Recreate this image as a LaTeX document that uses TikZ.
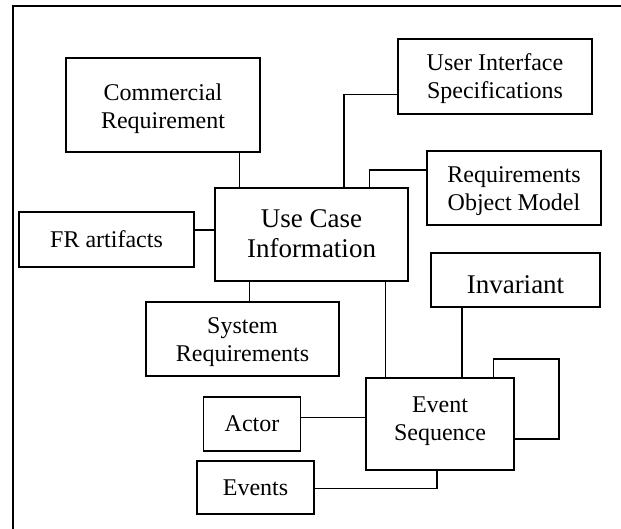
\documentclass[tikz,border=0pt]{standalone}
\usepackage{fontspec}
\setmainfont{Liberation Serif}
\begin{document}
\begin{tikzpicture}[x=1pt,y=-1pt,
  box/.style={draw, line width=1.6pt, rectangle, inner sep=0pt},
  txt/.style={align=center, font=\fontsize{24}{28}\selectfont},
  bigtxt/.style={align=center, font=\fontsize{27}{30}\selectfont},
  conn/.style={line width=1.5pt}]
\useasboundingbox (0,0) rectangle (621,529);
% frame
\draw[line width=1.5pt] (13,529) -- (13,6) -- (621,6);
% boxes
\node[box, minimum width=194pt, minimum height=94pt, label={[txt,yshift=-4pt]center:{Commercial\\Requirement}}] (com) at (163,105) {};
\node[box, minimum width=194pt, minimum height=75pt, label={[txt,yshift=-2pt]center:{User Interface\\Specifications}}] (uis) at (495,76.5) {};
\node[box, minimum width=174pt, minimum height=74pt, label={[txt,yshift=-3pt]center:{Requirements\\Object Model}}] (rom) at (514,188) {};
\node[box, minimum width=175pt, minimum height=55pt, label={[txt]center:{FR artifacts}}] (fr) at (106.5,239.5) {};
\node[box, minimum width=193pt, minimum height=93pt, label={[bigtxt,yshift=1pt]center:{Use Case\\Information}}] (uci) at (311.5,234.5) {};
\node[box, minimum width=169pt, minimum height=54pt, label={[bigtxt,yshift=-5pt]center:{Invariant}}] (inv) at (515.5,280) {};
\node[box, minimum width=193pt, minimum height=74pt, label={[txt,yshift=-3pt]center:{System\\Requirements}}] (sys) at (242.5,339) {};
\node[box, minimum width=148pt, minimum height=92pt, label={[txt,yshift=3pt]center:{Event\\Sequence}}] (es) at (440,424) {};
\node[box, minimum width=97pt, minimum height=54pt, label={[txt]center:{Actor}}] (act) at (252,424) {};
\node[box, minimum width=117pt, minimum height=53pt, label={[txt]center:{Events}}] (evs) at (255.5,487.5) {};
% connectors
\draw[conn] (com.south -| 239.6,0) -- (uci.north -| 239.6,0);
\draw[conn] (uci.north -| 343.8,0) |- (uis.west |- 0,94.3);
\draw[conn] (uci.north -| 369.5,0) |- (rom.west |- 0,170);
\draw[conn] (fr.east |- 0,230) -- (uci.west |- 0,230);
\draw[conn] (uci.south -| 249.5,0) -- (sys.north -| 249.5,0);
\draw[conn] (uci.south -| 385.3,0) -- (es.north -| 385.3,0);
\draw[conn] (inv.south -| 462,0) -- (es.north -| 462,0);
\coordinate (loop) at (559,359);
\draw[conn] (es.north -| 493.5,0) |- (loop) |- (es.east |- 0,439);
\draw[conn] (act.east |- 0,417.3) -- (es.west |- 0,417.3);
\draw[conn] (evs.east |- 0,488.7) -| (es.south -| 436.8,0);
\end{tikzpicture}
\end{document}
